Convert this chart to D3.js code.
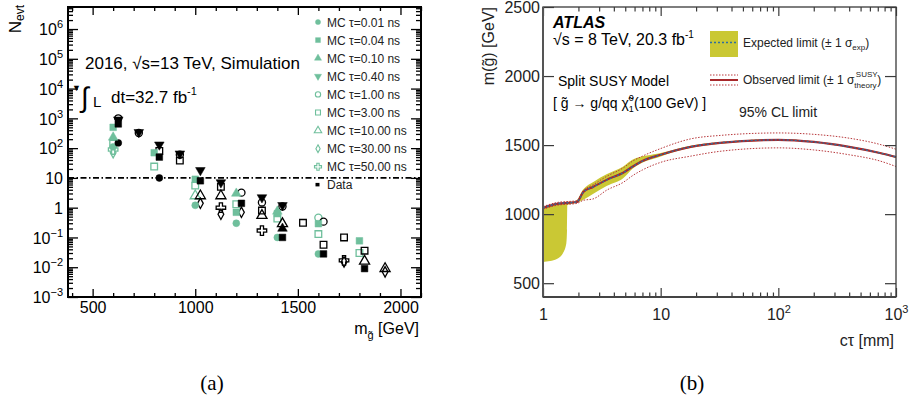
<!DOCTYPE html>
<html><head><meta charset="utf-8">
<script src="https://cdn.jsdelivr.net/npm/d3@7"></script>
<style>body{margin:0;background:#fff} svg{display:block} text{font-family:"Liberation Sans",Arial,Helvetica,sans-serif}</style>
</head><body><svg id="c" width="909" height="403"></svg>
<script>
// ---------------- Panel (a) data : gluino mass [GeV] vs N_evt ----------------
const seriesLabels = ["MC τ=0.01 ns","MC τ=0.04 ns","MC τ=0.10 ns","MC τ=0.40 ns","MC τ=1.00 ns","MC τ=3.00 ns","MC τ=10.00 ns","MC τ=30.00 ns","MC τ=50.00 ns"];
const tau001_mass = [600, 625, 825, 1000, 1200, 1400, 1600];
const tau001_nevt = [110, 150, 10, 1.2, 0.3, 0.1, 0.028];
const tau004_mass = [600, 625, 800, 825, 1000, 1025, 1200, 1225, 1400, 1425, 1600, 1625, 1800, 1825];
const tau004_nevt = [500, 650, 70, 50, 9, 8, 0.7, 1.4, 0.63, 0.1, 0.29, 0.028, 0.077, 0.009];
const tau010_mass = [600, 1200, 1400, 1425];
const tau010_nevt = [230, 3.0, 0.75, 0.2];
const tau040_mass = [625, 725, 825, 925, 1025, 1125, 1325, 1425];
const tau040_nevt = [900, 340, 130, 65, 18, 7, 2.2, 1.2];
const tau100_mass = [625, 725, 925, 1225, 1325, 1425, 1600, 1625];
const tau100_nevt = [1000, 320, 60, 3.2, 1.5, 1.1, 0.46, 0.34];
const tau300_mass = [600, 800, 825, 925, 1000, 1125, 1200, 1325, 1400, 1525, 1600, 1625, 1725, 1800, 1825];
const tau300_nevt = [140, 24, 80, 38, 5.5, 5, 1.3, 0.8, 0.43, 0.31, 0.13, 0.057, 0.1, 0.03, 0.036];
const tau1000_mass = [1000, 1025, 1125, 1325, 1425, 1825, 1925];
const tau1000_nevt = [2.5, 2.5, 2.5, 0.55, 0.29, 0.016, 0.009];
const tau3000_mass = [600, 1025, 1125, 1225, 1725, 1925];
const tau3000_nevt = [70, 1.4, 0.6, 0.7, 0.015, 0.007];
const tau5000_mass = [600, 1125, 1325, 1725];
const tau5000_nevt = [90, 1.0, 0.17, 0.017];
const cutLine = 10;
const xTicksA = [500, 1000, 1500, 2000];
const yDecadesA = [-3, -2, -1, 0, 1, 2, 3, 4, 5, 6];

// ---------------- Panel (b) data : limit on m(gluino) vs c tau ----------------
const bandCtau = [1, 1.15, 1.31, 1.48, 1.58, 1.6, 1.61, 1.9, 2.2, 2.7, 3.5, 4.8, 5.8, 10, 18, 32, 100, 200, 400, 730, 1000];
const expUp    = [1050, 1062, 1076, 1080, 1082, 1083, 1084, 1095, 1180, 1235, 1290, 1345, 1395, 1442, 1495, 1522, 1543, 1528, 1492, 1448, 1419];
const expDown  = [654, 660, 675, 719, 791, 886, 1067, 1080, 1105, 1150, 1205, 1260, 1330, 1418, 1480, 1510, 1533, 1518, 1482, 1438, 1409];
const obsCtau  = [1, 1.31, 1.94, 2.2, 2.66, 3.5, 4.8, 5.8, 7, 10, 18, 32, 100, 200, 400, 730, 1000];
const obsMass  = [1045, 1074, 1088, 1160, 1197, 1250, 1300, 1345, 1385, 1430, 1487, 1516, 1538, 1523, 1487, 1443, 1414];
const expMass  = [1046, 1075, 1089, 1158, 1196, 1249, 1299, 1344, 1384, 1430, 1488, 1517, 1538, 1523, 1487, 1443, 1414];
const obsUp    = [1055, 1084, 1098, 1170, 1212, 1275, 1335, 1385, 1420, 1475, 1545, 1570, 1588, 1578, 1550, 1505, 1470];
const obsDown  = [1035, 1064, 1078, 1100, 1110, 1175, 1230, 1280, 1320, 1375, 1420, 1455, 1480, 1465, 1430, 1385, 1345];
const yTicksB = [500, 1000, 1500, 2000, 2500];
const xDecadesB = [0, 1, 2, 3];

// ---------------- drawing ----------------
const svg = d3.select("#c");
svg.append("rect").attr("width", 909).attr("height", 403).attr("fill", "#fff");
const TEAL = "#6fbf9c";

// ===== Panel (a) =====
const xA = d3.scaleLinear().domain([380, 2100]).range([68, 421]);
const yA = d3.scaleLog().domain([1e-3, Math.pow(10, 6.74)]).range([297, 7]);
const gA = svg.append("g");

const xMinA = d3.range(400, 2101, 100).filter(v => !xTicksA.includes(v));
const yMajA = yDecadesA.map(d => Math.pow(10, d));
const yMinA = [];
yDecadesA.forEach(d => { for (let k = 2; k <= 9; k++) { const v = k * Math.pow(10, d); if (v < yA.domain()[1]) yMinA.push(v); } });

function plainAxis(g, axis) { g.call(axis); g.select(".domain").remove(); g.selectAll("line").attr("stroke", "#000").attr("stroke-width", 1.3); }

gA.append("g").attr("transform", "translate(0,297)").call(g => {
  plainAxis(g, d3.axisBottom(xA).tickValues(xTicksA).tickSize(-8).tickPadding(5).tickFormat(d3.format("d")));
  g.selectAll("text").attr("font-size", 16).attr("fill", "#000").style("font-family", "Liberation Sans, Arial");
});
gA.append("g").attr("transform", "translate(0,297)").call(g => plainAxis(g, d3.axisBottom(xA).tickValues(xMinA).tickSize(-4).tickFormat("")));
gA.append("g").attr("transform", "translate(0,7)").call(g => plainAxis(g, d3.axisTop(xA).tickValues(xTicksA).tickSize(-8).tickFormat("")));
gA.append("g").attr("transform", "translate(0,7)").call(g => plainAxis(g, d3.axisTop(xA).tickValues(xMinA).tickSize(-4).tickFormat("")));
gA.append("g").attr("transform", "translate(68,0)").call(g => {
  plainAxis(g, d3.axisLeft(yA).tickValues(yMajA).tickSize(-10).tickPadding(5).tickFormat(""));
  g.selectAll(".tick").each(function (d) {
    const e = Math.round(Math.log10(d));
    const t = d3.select(this).append("text").attr("x", -5).attr("dy", "0.36em").attr("text-anchor", "end")
      .attr("font-size", 16).attr("fill", "#000");
    if (e === 0) t.text("1");
    else if (e === 1) t.text("10");
    else { t.append("tspan").text("10"); t.append("tspan").attr("font-size", 11).attr("dy", -7).text(e < 0 ? "−" + (-e) : e); }
  });
});
gA.append("g").attr("transform", "translate(68,0)").call(g => plainAxis(g, d3.axisLeft(yA).tickValues(yMinA).tickSize(-5).tickFormat("")));
gA.append("g").attr("transform", "translate(421,0)").call(g => plainAxis(g, d3.axisRight(yA).tickValues(yMajA).tickSize(-10).tickFormat("")));
gA.append("g").attr("transform", "translate(421,0)").call(g => plainAxis(g, d3.axisRight(yA).tickValues(yMinA).tickSize(-5).tickFormat("")));
gA.append("rect").attr("x", 68).attr("y", 7).attr("width", 353).attr("height", 290).attr("fill", "none").attr("stroke", "#000").attr("stroke-width", 2);

gA.append("line").attr("x1", xA.range()[0]).attr("x2", xA.range()[1]).attr("y1", yA(cutLine)).attr("y2", yA(cutLine))
  .attr("stroke", "#000").attr("stroke-width", 1.6).attr("stroke-dasharray", "6,2.5,1.5,2.5");

const diamondNarrow = { draw(ctx, size) { const h = Math.sqrt(size) * 0.75, w = h * 0.55; ctx.moveTo(0, -h); ctx.lineTo(w, 0); ctx.lineTo(0, h); ctx.lineTo(-w, 0); ctx.closePath(); } };
const styles = [
  { type: d3.symbolCircle, open: false, rot: 0, size: 38 },
  { type: d3.symbolSquare, open: false, rot: 0, size: 44 },
  { type: d3.symbolTriangle, open: false, rot: 0, size: 40 },
  { type: d3.symbolTriangle, open: false, rot: 180, size: 40 },
  { type: d3.symbolCircle, open: true, rot: 0, size: 40 },
  { type: d3.symbolSquare, open: true, rot: 0, size: 44 },
  { type: d3.symbolTriangle, open: true, rot: 0, size: 44 },
  { type: diamondNarrow, open: true, rot: 0, size: 48 },
  { type: d3.symbolCross, open: true, rot: 0, size: 50 }
];
const seriesData = [
  [tau001_mass, tau001_nevt], [tau004_mass, tau004_nevt], [tau010_mass, tau010_nevt],
  [tau040_mass, tau040_nevt], [tau100_mass, tau100_nevt], [tau300_mass, tau300_nevt],
  [tau1000_mass, tau1000_nevt], [tau3000_mass, tau3000_nevt], [tau5000_mass, tau5000_nevt]
];
const sampleColor = m => (m % 100 === 0 ? TEAL : "#000");
const order = [4, 5, 6, 7, 8, 0, 1, 2, 3];
order.forEach(i => {
  const st = styles[i];
  const [ms, vs] = seriesData[i];
  const pts = ms.map((m, j) => ({ m, v: vs[j] }));
  gA.append("g").selectAll("path").data(pts).join("path")
    .attr("d", d3.symbol().type(st.type).size(st.size))
    .attr("transform", d => `translate(${xA(d.m)},${yA(d.v)}) rotate(${st.rot})`)
    .attr("fill", d => st.open ? "none" : sampleColor(d.m))
    .attr("stroke", d => sampleColor(d.m))
    .attr("stroke-width", st.open ? 1.3 : 0.5);
});

const legY0 = 22, legDy = 18.1;
seriesLabels.forEach((lab, i) => {
  const st = styles[i];
  const y = legY0 + i * legDy;
  gA.append("path").attr("d", d3.symbol().type(st.type).size(st.size * 0.55))
    .attr("transform", `translate(318,${y}) rotate(${st.rot})`)
    .attr("fill", st.open ? "none" : TEAL).attr("stroke", TEAL).attr("stroke-width", st.open ? 1.1 : 0.4);
  gA.append("text").attr("x", 327).attr("y", y + 4.5).attr("font-size", 12).attr("fill", "#222").text(lab);
});
{
  const y = legY0 + 9 * legDy;
  gA.append("rect").attr("x", 315.5).attr("y", y - 2).attr("width", 4).attr("height", 3.5).attr("fill", "#000");
  gA.append("text").attr("x", 327).attr("y", y + 4.5).attr("font-size", 12).attr("fill", "#222").text("Data");
}

gA.append("text").attr("x", 85).attr("y", 69).attr("font-size", 17).text("2016, √s=13 TeV, Simulation");
gA.append("text").attr("x", 81).attr("y", 107).attr("font-size", 28).text("∫");
gA.append("text").attr("x", 93).attr("y", 107).attr("font-size", 15).text("L");
const lumA = gA.append("text").attr("x", 111).attr("y", 103).attr("font-size", 17);
lumA.append("tspan").text("dt=32.7 fb");
lumA.append("tspan").attr("font-size", 11).attr("dy", -8).text("-1");
gA.append("text").attr("x", 72).attr("y", 91).attr("font-size", 9).text("▼");
const ylabA = gA.append("text").attr("transform", "translate(21,5) rotate(-90)").attr("text-anchor", "end").attr("font-size", 17);
ylabA.append("tspan").text("N");
ylabA.append("tspan").attr("font-size", 12).attr("dy", 3).text("evt");
const xlabA = gA.append("text").attr("x", 419).attr("y", 334).attr("text-anchor", "end").attr("font-size", 16);
xlabA.append("tspan").text("m");
xlabA.append("tspan").attr("font-size", 11).attr("dy", 5).text("g̃");
xlabA.append("tspan").attr("dy", -5).text(" [GeV]");

// ===== Panel (b) =====
const xB = d3.scaleLog().domain([1, 1000]).range([543, 896]);
const yB = d3.scaleLinear().domain([400, 2500]).range([297, 7]);
const gB = svg.append("g");
const AX = "#3a3a3a";

const band = bandCtau.map((c, i) => ({ c, lo: expDown[i], hi: expUp[i] }));
gB.append("path").datum(band)
  .attr("d", d3.area().x(d => xB(d.c)).y0(d => yB(d.lo)).y1(d => yB(d.hi)).curve(d3.curveMonotoneX))
  .attr("fill", "#cac834");
const obsPts = obsCtau.map((c, i) => ({ c, m: obsMass[i], up: obsUp[i], dn: obsDown[i], e: expMass[i] }));
const lineB = key => d3.line().x(d => xB(d.c)).y(d => yB(d[key])).curve(d3.curveMonotoneX);
gB.append("path").datum(obsPts).attr("d", lineB("up")).attr("fill", "none").attr("stroke", "#b8383c").attr("stroke-width", 1).attr("stroke-dasharray", "1.5,1.5");
gB.append("path").datum(obsPts).attr("d", lineB("dn")).attr("fill", "none").attr("stroke", "#b8383c").attr("stroke-width", 1).attr("stroke-dasharray", "1.5,1.5");
gB.append("path").datum(obsPts).attr("d", lineB("m")).attr("fill", "none").attr("stroke", "#a8282c").attr("stroke-width", 2.2);
gB.append("path").datum(obsPts).attr("d", lineB("e")).attr("fill", "none").attr("stroke", "#2f6e9e").attr("stroke-width", 1.4).attr("stroke-dasharray", "2,2");

const xMajB = xDecadesB.map(d => Math.pow(10, d));
const xMinB = [];
xDecadesB.slice(0, -1).forEach(d => { for (let k = 2; k <= 9; k++) xMinB.push(k * Math.pow(10, d)); });
function axB(g, axis) { g.call(axis); g.select(".domain").remove(); g.selectAll("line").attr("stroke", AX).attr("stroke-width", 1.2); }
gB.append("g").attr("transform", "translate(0,297)").call(g => {
  axB(g, d3.axisBottom(xB).tickValues(xMajB).tickSize(-9).tickFormat(""));
  g.selectAll(".tick").each(function (d) {
    const e = Math.round(Math.log10(d));
    const t = d3.select(this).append("text").attr("y", 23).attr("text-anchor", "middle").attr("font-size", 16).attr("fill", "#222");
    if (e === 0) t.text("1");
    else if (e === 1) t.text("10");
    else { t.append("tspan").text("10"); t.append("tspan").attr("font-size", 11).attr("dy", -7).text(e); }
  });
});
gB.append("g").attr("transform", "translate(0,297)").call(g => axB(g, d3.axisBottom(xB).tickValues(xMinB).tickSize(-4.5).tickFormat("")));
gB.append("g").attr("transform", "translate(0,7)").call(g => axB(g, d3.axisTop(xB).tickValues(xMajB).tickSize(-9).tickFormat("")));
gB.append("g").attr("transform", "translate(0,7)").call(g => axB(g, d3.axisTop(xB).tickValues(xMinB).tickSize(-4.5).tickFormat("")));
gB.append("g").attr("transform", "translate(543,0)").call(g => {
  axB(g, d3.axisLeft(yB).tickValues(yTicksB).tickSize(-11).tickPadding(3).tickFormat(d3.format("d")));
  g.selectAll("text").attr("font-size", 16).attr("fill", "#222").style("font-family", "Liberation Sans, Arial");
});
gB.append("g").attr("transform", "translate(896,0)").call(g => axB(g, d3.axisRight(yB).tickValues(yTicksB).tickSize(-11).tickFormat("")));
gB.append("rect").attr("x", 543).attr("y", 7).attr("width", 353).attr("height", 290).attr("fill", "none").attr("stroke", AX).attr("stroke-width", 1.3);
gB.append("line").attr("x1", 543).attr("x2", 543).attr("y1", 7).attr("y2", 297).attr("stroke", "#555").attr("stroke-width", 2);
gB.append("line").attr("x1", 543).attr("x2", 896).attr("y1", 297).attr("y2", 297).attr("stroke", "#444").attr("stroke-width", 2);

gB.append("text").attr("x", 553).attr("y", 28).attr("font-size", 16).attr("font-weight", "bold").attr("font-style", "italic").text("ATLAS");
const lumB = gB.append("text").attr("x", 553).attr("y", 45).attr("font-size", 16);
lumB.append("tspan").text("√s = 8 TeV, 20.3 fb");
lumB.append("tspan").attr("font-size", 10).attr("dy", -7).text("-1");
gB.append("text").attr("x", 558).attr("y", 86).attr("font-size", 14).text("Split SUSY Model");
const proc = gB.append("text").attr("x", 553).attr("y", 108).attr("font-size", 14);
proc.append("tspan").text("[ g̃ → g/qq  χ̃");
proc.append("tspan").attr("font-size", 9).attr("dy", -7).text("0");
proc.append("tspan").attr("font-size", 9).attr("dx", -5).attr("dy", 11).text("1");
proc.append("tspan").attr("dy", -4).text("(100 GeV) ]");

gB.append("rect").attr("x", 710).attr("y", 31).attr("width", 28).attr("height", 26).attr("fill", "#cac834");
gB.append("line").attr("x1", 710).attr("x2", 738).attr("y1", 42.5).attr("y2", 42.5).attr("stroke", "#2f6e9e").attr("stroke-width", 1.5).attr("stroke-dasharray", "2,2");
const e1 = gB.append("text").attr("x", 743).attr("y", 47).attr("font-size", 12).attr("fill", "#222");
e1.append("tspan").text("Expected limit (± 1 σ");
e1.append("tspan").attr("font-size", 8).attr("dy", 3).text("exp");
e1.append("tspan").attr("dy", -3).text(")");
gB.append("line").attr("x1", 710).attr("x2", 738).attr("y1", 80).attr("y2", 80).attr("stroke", "#a8282c").attr("stroke-width", 2);
[75, 85].forEach(y => gB.append("line").attr("x1", 710).attr("x2", 738).attr("y1", y).attr("y2", y).attr("stroke", "#b8383c").attr("stroke-width", 1).attr("stroke-dasharray", "1.5,1.5"));
const o1 = gB.append("text").attr("x", 743).attr("y", 84).attr("font-size", 12).attr("fill", "#222").text("Observed limit (± 1 σ");
const ow = o1.node().getComputedTextLength();
gB.append("text").attr("x", 743 + ow + 1.5).attr("y", 77).attr("font-size", 8).attr("fill", "#222").text("SUSY");
gB.append("text").attr("x", 743 + ow).attr("y", 88).attr("font-size", 8).attr("fill", "#222").text("theory");
gB.append("text").attr("x", 743 + ow + 23).attr("y", 84).attr("font-size", 12).attr("fill", "#222").text(")");
gB.append("text").attr("x", 739).attr("y", 117).attr("font-size", 14).attr("fill", "#222").text("95% CL limit");

gB.append("text").attr("transform", "translate(494,7) rotate(-90)").attr("text-anchor", "end").attr("font-size", 16).attr("fill", "#222").text("m(g̃) [GeV]");
gB.append("text").attr("x", 894).attr("y", 346).attr("text-anchor", "end").attr("font-size", 16).attr("fill", "#222").text("cτ [mm]");

svg.append("text").attr("x", 212).attr("y", 390).attr("text-anchor", "middle").attr("font-size", 21).style("font-family", "'Liberation Serif', 'DejaVu Serif', serif").text("(a)");
svg.append("text").attr("x", 692).attr("y", 390).attr("text-anchor", "middle").attr("font-size", 21).style("font-family", "'Liberation Serif', 'DejaVu Serif', serif").text("(b)");
</script></body></html>
